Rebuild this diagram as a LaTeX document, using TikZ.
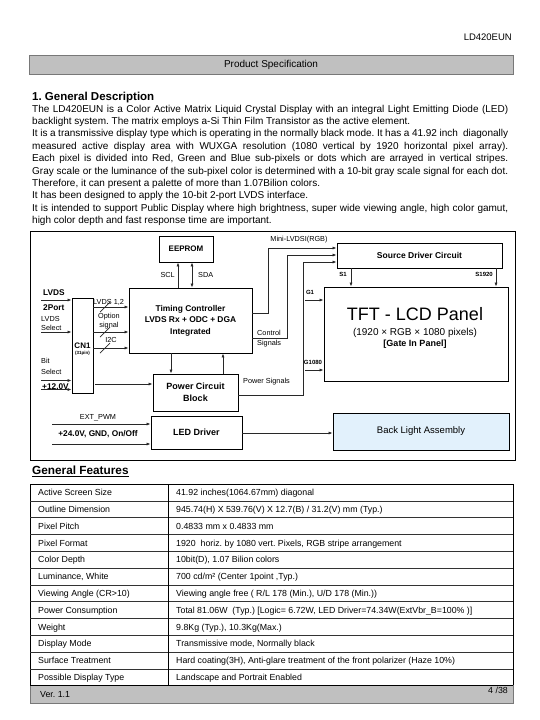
\documentclass[tikz,border=0pt]{standalone}
\usepackage{fontspec}
\setmainfont{Liberation Sans}
\usetikzlibrary{arrows.meta,calc}
\definecolor{barfill}{RGB}{192,192,192}
\definecolor{barline}{RGB}{120,120,120}
\definecolor{blafill}{RGB}{226,241,252}
\definecolor{linegray}{RGB}{40,40,40}
\newcommand{\myfs}[2]{\fontsize{#1}{#2}\selectfont}
\frenchspacing
\begin{document}
\begin{tikzpicture}[x=1pt,y=-1pt,
  box/.style={draw=black, line width=0.8pt, inner sep=0pt, align=center},
  arr/.style={draw=linegray, line width=0.7pt, -{Latex[length=4pt,width=3pt]}},
  darr/.style={draw=linegray, line width=0.7pt, {Latex[length=4pt,width=3pt]}-{Latex[length=4pt,width=3pt]}},
  plain/.style={draw=linegray, line width=0.7pt},
  lbl/.style={inner sep=0pt, font=\myfs{7.3}{8}},
  blbl/.style={inner sep=0pt, font=\myfs{8.3}{9}\bfseries},
  tlbl/.style={inner sep=0pt, font=\myfs{6}{7}\bfseries},
  para/.style={inner sep=0pt, anchor=base west, font=\myfs{10}{12}},
  head/.style={inner sep=0pt, anchor=base west, font=\myfs{11.5}{13}\bfseries},
  cell/.style={inner sep=0pt, anchor=base west, font=\myfs{8.8}{10}},
  tline/.style={draw=black, line width=0.6pt}
]
\useasboundingbox (0,0) rectangle (540,720);
\fill[white] (0,0) rectangle (540,720);

% header
\node[inner sep=0pt, anchor=base east, font=\myfs{9.5}{11}] (docid) at (512,40.5) {LD420EUN};
\node[draw=barline, fill=barfill, line width=0.8pt, minimum width=484pt, minimum height=19pt, inner sep=0pt, font=\myfs{10}{12}] (specbar) at (271,64.5) {Product Specification};

\node[head] (h1) at (32,100.2) {1. General Description};

\node[para] (p1) at (32,112.1) {\makebox[476pt][s]{The LD420EUN is a Color Active Matrix Liquid Crystal Display with an integral Light Emitting Diode (LED)}};
\node[para] (p2) at (32,124.5) {backlight system. The matrix employs a-Si Thin Film Transistor as the active element.};
\node[para] (p3) at (32,136.9) {\makebox[476pt][s]{It is a transmissive display type which is operating in the normally black mode. It has a 41.92 inch \ diagonally}};
\node[para] (p4) at (32,149.3) {\makebox[476pt][s]{measured active display area with WUXGA resolution (1080 vertical by 1920 horizontal pixel array).}};
\node[para] (p5) at (32,161.7) {\makebox[476pt][s]{Each pixel is divided into Red, Green and Blue sub-pixels or dots which are arrayed in vertical stripes.}};
\node[para] (p6) at (32,174.1) {\makebox[476pt][s]{Gray scale or the luminance of the sub-pixel color is determined with a 10-bit gray scale signal for each dot.}};
\node[para] (p7) at (32,186.5) {Therefore, it can present a palette of more than 1.07Bilion colors.};
\node[para] (p8) at (32,198.9) {It has been designed to apply the 10-bit 2-port LVDS interface.};
\node[para] (p9) at (32,211.3) {\makebox[476pt][s]{It is intended to support Public Display where high brightness, super wide viewing angle, high color gamut,}};
\node[para] (p10) at (32,223.7) {high color depth and fast response time are important.};

% diagram frame
\draw[draw=black, line width=0.9pt] (30,231) rectangle (515,460);

% boxes
\node[box, minimum width=54pt, minimum height=26pt, font=\myfs{8}{9}\bfseries] (eeprom) at (186,249) {EEPROM};
\node[box, minimum width=123pt, minimum height=65pt, font=\myfs{8.4}{11.5}\bfseries] (tc) at (190.5,320.5) {Timing Controller\\LVDS Rx + ODC + DGA\\Integrated};
\node[box, minimum width=21pt, minimum height=95pt] (cn1) at (82.5,345.5) {};
\node[box, minimum width=85pt, minimum height=37pt, font=\myfs{9}{12}\bfseries] (pc) at (195.5,392.5) {Power Circuit\\Block};
\node[box, minimum width=91pt, minimum height=33pt, font=\myfs{9}{11}\bfseries] (led) at (196.5,432.5) {LED Driver};
\node[box, fill=blafill, minimum width=176pt, minimum height=37pt, font=\myfs{9.5}{11}] (bla) at (421,431.5) {Back Light Assembly};
\node[box, minimum width=165pt, minimum height=25pt, font=\myfs{8.5}{10}\bfseries] (sdc) at (419.5,255.5) {Source Driver Circuit};
\node[box, minimum width=184pt, minimum height=94pt] (tft) at (416,334) {};

% TFT text
\node[inner sep=0pt, font=\myfs{18}{20}] (tft1) at (415,314) {TFT - LCD Panel};
\node[inner sep=0pt, font=\myfs{10}{12}] (tft2) at (415,333) {(1920 × RGB × 1080 pixels)};
\node[inner sep=0pt, font=\myfs{9}{11}\bfseries] (tft3) at (415,344) {[Gate In Panel]};

% CN1 text
\node[inner sep=0pt, font=\myfs{8}{9}\bfseries] (cn1a) at (82.5,346) {CN1};
\node[inner sep=0pt, font=\myfs{4.5}{5}\bfseries] (cn1b) at (82.5,353) {(31pin)};

% EEPROM links
\draw[arr] (178,0 |- tc.north) -- (178,0 |- eeprom.south);
\draw[darr] (192,0 |- tc.north) -- (192,0 |- eeprom.south);
\node[lbl, anchor=east] (scl) at (175,275) {SCL};
\node[lbl, anchor=west] (sda) at (198,275) {SDA};

% TC to source driver
\coordinate (m1) at (268,248);
\coordinate (m2) at (287,255);
\coordinate (m3) at (303,262);
\draw[arr] (tc.east |- 0,313) -| (m1) -- (sdc.west |- m1);
\draw[arr] (tc.east |- 0,338) -| (m2) -- (sdc.west |- m2);
\draw[arr] (pc.east |- 0,395) -| (m3) -- (sdc.west |- m3);
\node[lbl] (mini) at (299,240) {Mini-LVDSI(RGB)};
\node[lbl, anchor=west] (ctl1) at (257,333) {Control};
\node[lbl, anchor=west] (ctl2) at (257,343.5) {Signals};
\node[lbl, anchor=west] (pws) at (243,382) {Power Signals};

% source to TFT
\draw[arr] (351,0 |- sdc.south) -- (351,0 |- tft.north);
\draw[arr] (496,0 |- sdc.south) -- (496,0 |- tft.north);
\node[tlbl, anchor=east] (s1) at (347,274) {S1};
\node[tlbl, anchor=east] (s1920) at (493,274) {S1920};

% gate
\coordinate (g1) at (305,300);
\coordinate (g2) at (305,370);
\draw[arr] (g1) -- (tft.west |- g1);
\draw[arr] (g2) -- (tft.west |- g2);
\node[tlbl] (g1l) at (310,292) {G1};
\node[tlbl] (g2l) at (313,362) {G1080};

% inputs to CN1
\coordinate (i1) at (41,300);
\coordinate (i2) at (41,332);
\coordinate (i3) at (41,380.5);
\coordinate (i4) at (41,389.5);
\draw[arr] (i1) -- (cn1.west |- i1);
\draw[arr] (i2) -- (cn1.west |- i2);
\draw[arr] (i3) -- (cn1.west |- i3);
\draw[arr] (i4) -- (cn1.west |- i4);
\node[blbl, anchor=west] (lv1) at (43,293) {LVDS};
\node[blbl, anchor=west] (lv2) at (43,308) {2Port};
\node[lbl, anchor=west] (lv3) at (41,319) {LVDS};
\node[lbl, anchor=west] (lv4) at (41,327.5) {Select};
\node[lbl, anchor=west] (bs1) at (41,361) {Bit};
\node[lbl, anchor=west] (bs2) at (41,372) {Select};
\node[blbl, anchor=west] (v12) at (42,387) {+12.0V};

% CN1 to TC
\foreach \yy/\nm in {307/c1,332/c2,348/c3}{
  \draw[arr] (cn1.east |- 0,\yy) -- (tc.west |- 0,\yy);
  \draw[plain] (100,\yy+5) -- (110,\yy-5);
}
\node[lbl, anchor=west] (lv12) at (93,302) {LVDS 1,2};
\node[lbl] (opt1) at (109,317) {Option};
\node[lbl] (opt2) at (109,326) {signal};
\node[lbl] (i2c) at (111,340) {I2C};

% CN1 to power, TC <-> power
\draw[arr] ($(cn1.east |- 0,384)+(2,0)$) -- (pc.west |- 0,384);
\draw[arr] (171,0 |- tc.south) -- (171,0 |- pc.north);
\draw[arr] (223,0 |- pc.north) -- (223,0 |- tc.south);

% LED driver
\coordinate (e1) at (52,424);
\coordinate (e2) at (52,444);
\draw[arr] (e1) -- (led.west |- e1);
\draw[arr] (e2) -- (led.west |- e2);
\node[lbl] (pwm) at (98,418) {EXT\_PWM};
\node[blbl] (v24) at (98,434) {+24.0V, GND, On/Off};
\draw[arr] (led.east |- 0,433) -- (bla.west |- 0,433);

% General features
\node[head, font=\myfs{11.8}{13}\bfseries] (h2) at (32,474.2) {\underline{General Features}};

\draw[tline] (30,484.1) rectangle (513,685.7);
\foreach \k in {1,...,11}{ \draw[draw=black!80, line width=0.5pt] (30,484.1+16.8*\k) -- (513,484.1+16.8*\k); }
\draw[draw=black, line width=0.9pt] (168,484.1) -- (168,685.7);

\node[cell] (l1) at (38,495.7) {Active Screen Size};
\node[cell] (r1) at (176,495.7) {41.92 inches(1064.67mm) diagonal};
\node[cell] (l2) at (38,512.5) {Outline Dimension};
\node[cell] (r2) at (176,512.5) {945.74(H) X 539.76(V) X 12.7(B) / 31.2(V) mm (Typ.)};
\node[cell] (l3) at (38,529.3) {Pixel Pitch};
\node[cell] (r3) at (176,529.3) {0.4833 mm x 0.4833 mm};
\node[cell] (l4) at (38,546.1) {Pixel Format};
\node[cell] (r4) at (176,546.1) {1920 \ horiz. by 1080 vert. Pixels, RGB stripe arrangement};
\node[cell] (l5) at (38,562.9) {Color Depth};
\node[cell] (r5) at (176,562.9) {10bit(D), 1.07 Bilion colors};
\node[cell] (l6) at (38,579.7) {Luminance, White};
\node[cell] (r6) at (176,579.7) {700 cd/m² (Center 1point ,Typ.)};
\node[cell] (l7) at (38,596.5) {Viewing Angle (CR>10)};
\node[cell] (r7) at (176,596.5) {Viewing angle free ( R/L 178 (Min.), U/D 178 (Min.))};
\node[cell] (l8) at (38,613.3) {Power Consumption};
\node[cell] (r8) at (176,613.3) {Total 81.06W \ (Typ.) [Logic= 6.72W, LED Driver=74.34W(ExtVbr\_B=100\% )]};
\node[cell] (l9) at (38,630.1) {Weight};
\node[cell] (r9) at (176,630.1) {9.8Kg (Typ.), 10.3Kg(Max.)};
\node[cell] (l10) at (38,646.9) {Display Mode};
\node[cell] (r10) at (176,646.9) {Transmissive mode, Normally black};
\node[cell] (l11) at (38,663.7) {Surface Treatment};
\node[cell] (r11) at (176,663.7) {Hard coating(3H), Anti-glare treatment of the front polarizer (Haze 10\%)};
\node[cell] (l12) at (38,680.5) {Possible Display Type};
\node[cell] (r12) at (176,680.5) {Landscape and Portrait Enabled};

% footer
\draw[fill=barfill, draw=barline, line width=0.8pt] (30,685.7) rectangle (513,703);
\draw[tline] (30,685.7) -- (513,685.7);
\node[cell] (ver) at (40,697.5) {Ver. 1.1};
\node[cell, anchor=base east] (pg) at (508,693.2) {4 /38};
\end{tikzpicture}
\end{document}
